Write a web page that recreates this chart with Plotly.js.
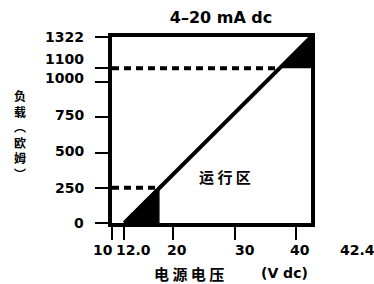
<!DOCTYPE html>
<html>
<head>
<meta charset="utf-8">
<script src="https://cdn.plot.ly/plotly-3.0.1.min.js"></script>
<style>html,body{margin:0;padding:0;background:#fff;}#chart{width:374px;height:284px;}</style>
</head>
<body>
<div id="chart"></div>
<script>
// ---- data ----
const supplyVoltage = [12.0, 42.4];      // V dc at the two ends of the load line
const loadOhms = [0, 1322];              // load (ohm) at those voltages
const guideLevels = [250, 1100];         // dashed guide levels (ohm)
const xTickVals = [10, 12.0, 20, 30, 40, 42.4];
const xTickText = ['10', '12.0', '20', '30', '40', '42.4'];
const yTickVals = [0, 250, 500, 750, 1000, 1100, 1322];
const yTickText = ['0', '250', '500', '750', '1000', '1100', '1322'];
const chartTitle = '4–20 mA dc';
const yTitleChars = ['负', '载', '︵', '欧', '姆', '︶'];
const xTitleText = '电源电压';
const xUnitText = '(V dc)';
const regionText = '运行区';

// ---- style / placement (pixels) ----
const xLabelShift = [-9, 9, 4, 10, 4, 46];
const yLabelShift = [0, 0, 2, 2, 4, 9, 0];
const plotTopPx = 37, plotBottomPx = 223, plotLeftPx = 112, plotRightPx = 311;

// voltage on the load line for a given load
function voltAt(load) {
  const t = (load - loadOhms[0]) / (loadOhms[1] - loadOhms[0]);
  return supplyVoltage[0] + t * (supplyVoltage[1] - supplyVoltage[0]);
}
const vLow = voltAt(guideLevels[0]);
const vHigh = voltAt(guideLevels[1]);
const xMin = xTickVals[0];

const numFont = {family: 'DejaVu Sans', size: 14, color: '#000', weight: 'bold'};
const cjkFont = {family: 'Noto Sans CJK SC', size: 15, color: '#000', weight: 'bold'};

const traces = [
  { // lower-left filled wedge
    x: [supplyVoltage[0], vLow, vLow, supplyVoltage[0]],
    y: [loadOhms[0], loadOhms[0], guideLevels[0], loadOhms[0]],
    mode: 'lines', fill: 'toself', fillcolor: '#000', line: {width: 0, color: '#000'},
    hoverinfo: 'skip'
  },
  { // upper-right filled wedge
    x: [vHigh, supplyVoltage[1], supplyVoltage[1], vHigh],
    y: [guideLevels[1], guideLevels[1], loadOhms[1], guideLevels[1]],
    mode: 'lines', fill: 'toself', fillcolor: '#000', line: {width: 0, color: '#000'},
    hoverinfo: 'skip'
  },
  { // dashed guide at 250
    x: [xMin, vLow], y: [guideLevels[0], guideLevels[0]],
    mode: 'lines', line: {color: '#000', width: 4, dash: '7px,5px'}
  },
  { // dashed guide at 1100
    x: [xMin, vHigh], y: [guideLevels[1], guideLevels[1]],
    mode: 'lines', line: {color: '#000', width: 4, dash: '7px,5px'}
  },
  { // load line
    x: supplyVoltage, y: loadOhms,
    mode: 'lines', line: {color: '#000', width: 4}
  }
];

const plotW = plotRightPx - plotLeftPx, plotH = plotBottomPx - plotTopPx;
const annotations = [];
// x tick labels (42.4 sits outside the frame, no tick mark)
xTickVals.forEach((v, i) => annotations.push({
  text: xTickText[i], x: v, y: 0, xref: 'x', yref: 'paper',
  xanchor: 'center', yanchor: 'middle', xshift: xLabelShift[i], yshift: -27,
  showarrow: false, font: numFont
}));
// y tick labels
yTickVals.forEach((v, i) => annotations.push({
  text: yTickText[i], x: 0, y: v, xref: 'paper', yref: 'y',
  xanchor: 'right', yanchor: 'middle', xshift: -26, yshift: yLabelShift[i],
  showarrow: false, font: numFont
}));
annotations.push(
  // vertical y title, stacked characters
  {text: yTitleChars.join('<br>'), x: (20 - plotLeftPx) / plotW, y: (plotBottomPx - 134) / plotH,
   xref: 'paper', yref: 'paper', xanchor: 'center', yanchor: 'middle', showarrow: false,
   borderpad: 0, font: {family: 'Noto Sans CJK SC', size: 12, color: '#000', weight: 'bold'}},
  {text: xTitleText.split('').join(' '), x: (189 - plotLeftPx) / plotW, y: (plotBottomPx - 273) / plotH,
   xref: 'paper', yref: 'paper', xanchor: 'center', yanchor: 'middle', showarrow: false,
   borderpad: 0, font: cjkFont},
  {text: xUnitText, x: (284 - plotLeftPx) / plotW, y: (plotBottomPx - 273) / plotH,
   xref: 'paper', yref: 'paper', xanchor: 'center', yanchor: 'middle', showarrow: false,
   borderpad: 0, font: numFont},
  {text: regionText.split('').join(' '), x: 28.4, y: 327, xref: 'x', yref: 'y',
   xanchor: 'center', yanchor: 'middle', showarrow: false, font: cjkFont}
);

const layout = {
  width: 374, height: 284,
  margin: {l: plotLeftPx, r: 374 - plotRightPx, t: plotTopPx, b: 284 - plotBottomPx, pad: 0},
  paper_bgcolor: '#fff', plot_bgcolor: '#fff',
  showlegend: false,
  title: {text: chartTitle, font: {family: 'DejaVu Sans', size: 16, color: '#000', weight: 'bold'},
          x: 0.591, xref: 'container', xanchor: 'center',
          y: 0.937, yref: 'container', yanchor: 'middle'},
  xaxis: {
    range: [xMin, supplyVoltage[1]], showgrid: false, zeroline: false,
    showline: true, linecolor: '#000', linewidth: 4, mirror: true,
    ticks: 'outside', ticklen: 13, tickwidth: 2, tickcolor: '#000',
    tickvals: xTickVals.slice(0, 5), showticklabels: false, fixedrange: true
  },
  yaxis: {
    range: [loadOhms[0], loadOhms[1]], showgrid: false, zeroline: false,
    showline: true, linecolor: '#000', linewidth: 4, mirror: true,
    ticks: 'outside', ticklen: 13, tickwidth: 2, tickcolor: '#000',
    tickvals: yTickVals, showticklabels: false, fixedrange: true
  },
  annotations: annotations
};

Plotly.newPlot('chart', traces, layout, {displayModeBar: false, staticPlot: true});
</script>
</body>
</html>
